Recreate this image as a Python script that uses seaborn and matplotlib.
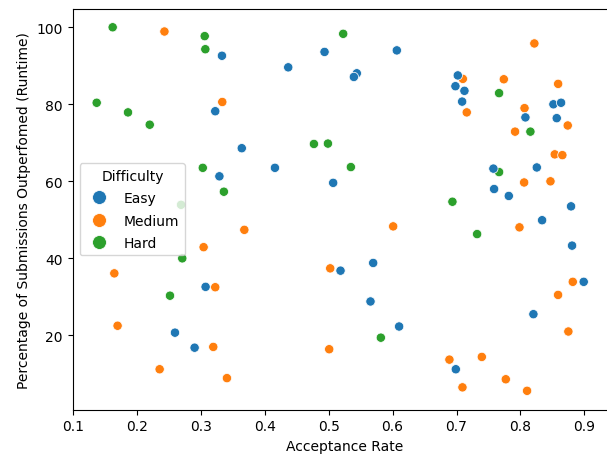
import matplotlib
matplotlib.use("Agg")
import matplotlib.pyplot as plt
import pandas as pd
import seaborn as sns

# Werte, je Schwierigkeit
medium_rate = [0.243, 0.3335, 0.368, 0.6009, 0.8218, 0.7099, 0.774, 0.859, 0.716,
               0.8064, 0.874, 0.7916, 0.8537, 0.8656, 0.8058, 0.847, 0.7985,
               0.8819, 0.8589, 0.875, 0.6889, 0.7396, 0.7093, 0.7771, 0.8104,
               0.5024, 0.5008, 0.3043, 0.1646, 0.3225, 0.1697, 0.3194, 0.2355,
               0.3408]
medium_runtime = [98.9, 80.6, 47.4, 48.3, 95.8, 86.6, 86.5, 85.3, 77.9,
                  79.0, 74.5, 72.9, 67.0, 66.8, 59.7, 60.0, 48.05,
                  33.9, 30.5, 21.0, 13.7, 14.4, 6.5, 8.6, 5.6,
                  37.4, 16.4, 42.9, 36.1, 32.5, 22.5, 17.0, 11.2,
                  8.9]

hard_rate = [0.162, 0.306, 0.307, 0.137, 0.186, 0.220, 0.303, 0.336, 0.269,
             0.5227, 0.4769, 0.4988, 0.5347, 0.6936, 0.7666, 0.8156, 0.7666,
             0.7322, 0.5816, 0.2709, 0.2517]
hard_runtime = [100.0, 97.7, 94.3, 80.4, 77.9, 74.7, 63.5, 57.3, 53.9,
                98.3, 69.7, 69.8, 63.7, 54.7, 82.9, 72.9, 62.4,
                46.3, 19.4, 40.0, 30.3]

easy_rate = [0.333, 0.3225, 0.364, 0.329, 0.4935, 0.6066, 0.4367, 0.544, 0.5394,
             0.4159, 0.507, 0.702, 0.6983, 0.7124, 0.7088, 0.8516, 0.8636,
             0.8078, 0.8568, 0.7577, 0.8256, 0.7588, 0.7818, 0.8792, 0.8339,
             0.8808, 0.899, 0.8203, 0.6989, 0.5185, 0.5696, 0.5654, 0.6102,
             0.3074, 0.2595, 0.2902]
easy_runtime = [92.6, 78.2, 68.6, 61.3, 93.6, 94.0, 89.6, 88.05, 87.1,
                63.5, 59.6, 87.5, 84.7, 83.5, 80.7, 80.0, 80.4,
                76.6, 76.4, 63.3, 63.6, 58.0, 56.2, 53.5, 49.9,
                43.3, 33.9, 25.5, 11.2, 36.8, 38.8, 28.8, 22.3,
                32.6, 20.7, 16.8]

df = pd.DataFrame({
    "Acceptance Rate": medium_rate + hard_rate + easy_rate,
    "Runtime": medium_runtime + hard_runtime + easy_runtime,
    "Difficulty": ["Medium"] * len(medium_rate) + ["Hard"] * len(hard_rate)
                  + ["Easy"] * len(easy_rate),
})

fig = plt.figure(figsize=(6.07, 4.6), dpi=100)
# Achse ragt rechts etwas ueber den Rand hinaus (wie im Original abgeschnitten)
ax = fig.add_axes([0.1198, 0.1072, 0.895, 0.8711])
sns.scatterplot(data=df, x="Acceptance Rate", y="Runtime", hue="Difficulty",
                hue_order=["Easy", "Medium", "Hard"], s=45, ax=ax)
ax.set_xlim(0.0995, 0.9495)
ax.set_ylim(0.7, 104.75)
ax.set_xticks([0.1, 0.2, 0.3, 0.4, 0.5, 0.6, 0.7, 0.8, 0.9])
ax.set_xlabel("Acceptance Rate")
ax.set_ylabel("Percentage of Submissions Outperfomed (Runtime)")
leg = ax.legend(title="Difficulty", loc="center left",
                bbox_to_anchor=(0, 0.5), labelspacing=0.6)
for h in leg.legend_handles:
    h.set_markersize(10)
fig.savefig("out.png", dpi=100)
